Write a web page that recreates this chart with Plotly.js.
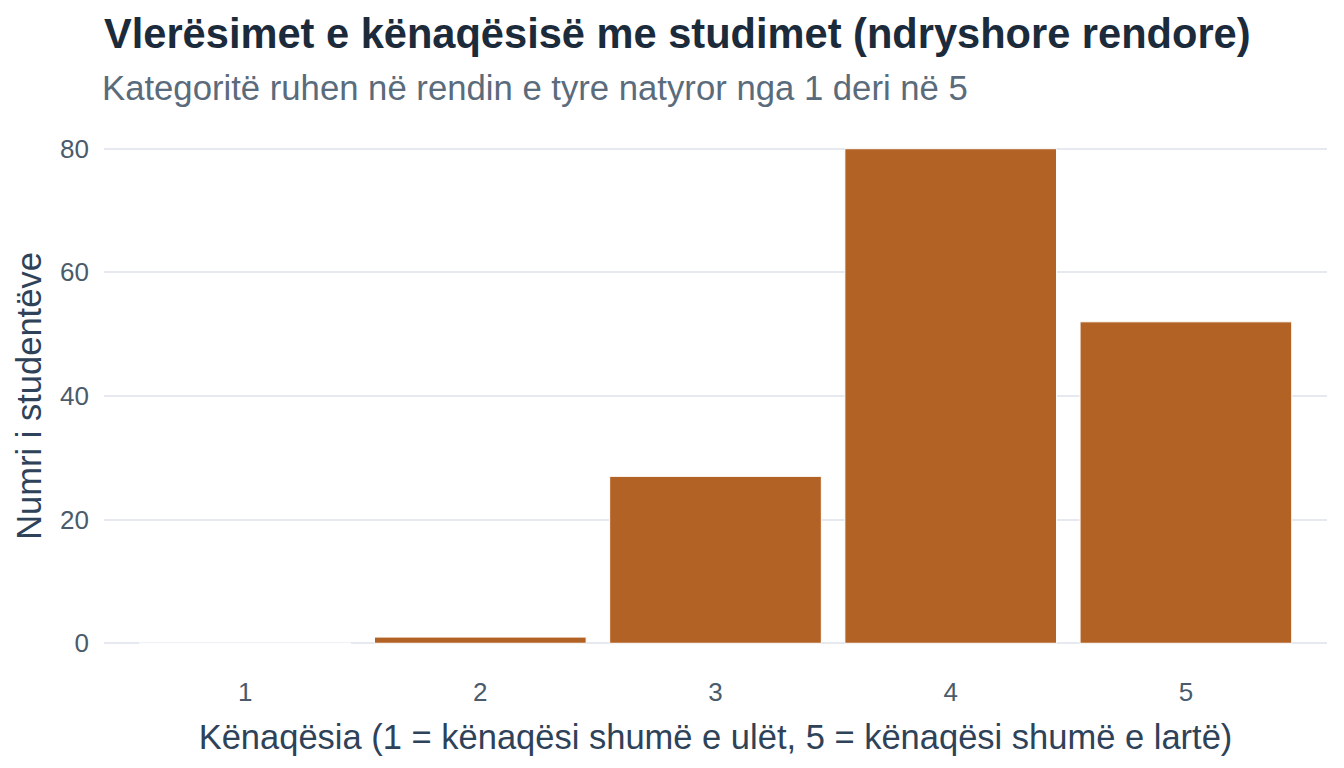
<!DOCTYPE html>
<html lang="sq">
<head>
  <meta charset="UTF-8">
  <title>Vlerësimet e kënaqësisë</title>
  <script src="https://cdn.plot.ly/plotly-3.0.1.min.js" charset="utf-8"></script>
  <style>
    body { margin: 0; background: #ffffff; }
    #chart { width: 1344px; height: 768px; }
  </style>
</head>
<body>
  <div id="chart"></div>
  <script>
    // rating categories and student counts
    const ratings = ["1", "2", "3", "4", "5"];
    const counts = [0, 1, 27, 80, 52];
    const yTicks = [0, 20, 40, 60, 80];

    const textFont = "Liberation Sans, Arial, sans-serif";

    var trace = {
      x: ratings,
      y: counts,
      type: 'bar',
      width: 0.9,
      marker: {color: '#B36225', line: {color: '#ffffff', width: 1}},
      hoverinfo: 'x+y'
    };

    var layout = {
      width: 1344,
      height: 768,
      margin: {l: 104, r: 17, t: 124, b: 100},
      paper_bgcolor: '#ffffff',
      plot_bgcolor: '#ffffff',
      showlegend: false,
      font: {family: textFont, color: '#4A5B6C'},
      title: {
        text: '<b>Vlerësimet e kënaqësisë me studimet (ndryshore rendore)</b>',
        font: {family: textFont, size: 41.6, color: '#1B2B3B'},
        x: 0, xref: 'paper', xanchor: 'left',
        y: 1 - 33 / 768, yref: 'container', yanchor: 'middle'
      },
      annotations: [{
        text: 'Kategoritë ruhen në rendin e tyre natyror nga 1 deri në 5',
        xref: 'paper', yref: 'paper', x: 0, y: 1 + 36 / 544,
        xanchor: 'left', yanchor: 'middle', showarrow: false,
        xshift: -4,
        font: {family: textFont, size: 34.7, color: '#5A6B7C'}
      }],
      xaxis: {
        type: 'category',
        range: [-0.6, 4.6],
        showgrid: false,
        zeroline: false,
        showline: false,
        ticks: '',
        tickfont: {size: 26, color: '#4A5B6C'},
        ticklabelstandoff: 6,
        title: {
          text: 'Kënaqësia (1 = kënaqësi shumë e ulët, 5 = kënaqësi shumë e lartë)',
          font: {size: 34.5, color: '#2E4259'},
          standoff: 18
        }
      },
      yaxis: {
        range: [-4, 84],
        tickvals: yTicks,
        ticktext: yTicks.map(String),
        showgrid: true,
        gridcolor: '#E6EAF0',
        gridwidth: 2,
        zeroline: false,
        showline: false,
        ticks: '',
        tickfont: {size: 26, color: '#4A5B6C'},
        ticklabelstandoff: 14,
        title: {
          text: 'Numri i studentëve',
          font: {size: 34.5, color: '#2E4259'},
          standoff: 8
        }
      },
      bargap: 0.1
    };

    Plotly.newPlot('chart', [trace], layout, {displayModeBar: false, staticPlot: true});
  </script>
</body>
</html>
